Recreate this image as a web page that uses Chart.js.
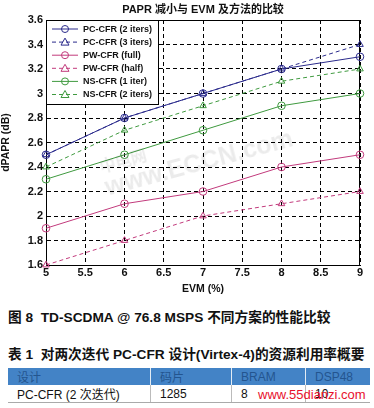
<!DOCTYPE html>
<html>
<head>
<meta charset="utf-8">
<script src="https://cdn.jsdelivr.net/npm/chart.js@4/dist/chart.umd.min.js"></script>
<style>
  body { margin: 0; background: #fff; width: 374px; height: 408px; overflow: hidden; position: relative;
         font-family: "Liberation Sans", "Noto Sans CJK SC", sans-serif; }
  #wrap { position: absolute; left: 0; top: 0; width: 374px; height: 295px; }
  .cap { position: absolute; left: 8px; font-weight: bold; font-size: 13.7px; color: #111; white-space: nowrap; }
  #mark { position: absolute; left: 98px; top: 160px; font-weight: bold; color: #000; line-height: 1;
          opacity: 0.08; transform: rotate(-15deg); transform-origin: left top; white-space: nowrap; }
  #mark .a { font-size: 16px; }
  #mark .b { font-size: 25px; }
  table { position: absolute; left: 8px; top: 368px; width: 362px; border-collapse: collapse; font-size: 12px;
          table-layout: fixed; }
  th { background: #4383c6; color: #23558f; font-weight: normal; text-align: left; height: 17px; padding: 0 0 0 9px;
       border-right: 1px solid #e4ecf4; }
  td { height: 17px; padding: 0 0 0 9px; color: #111; border-right: 1px solid #bbb; border-bottom: 1px solid #aaa; }
  th:last-child, td:last-child { border-right: none; }
  #site { position: absolute; left: 258px; top: 387px; font-size: 13px; color: #e8102c; white-space: nowrap; }
</style>
</head>
<body>
<div id="wrap"><canvas id="c" width="374" height="295"></canvas></div>
<div id="mark"><div class="a">中电网</div><div class="b">www.ECCN.com</div></div>
<div class="cap" style="top:306px">图 8&nbsp; TD-SCDMA @ 76.8 MSPS 不同方案的性能比较</div>
<div class="cap" style="top:343px">表 1&nbsp; 对两次迭代 PC-CFR 设计(Virtex-4)的资源利用率概要</div>
<table>
  <tr><th style="width:133px">设计</th><th style="width:71px">码片</th><th style="width:64px">BRAM</th><th>DSP48</th></tr>
  <tr><td>PC-CFR (2 次迭代)</td><td>1285</td><td>8</td><td>10</td></tr>
</table>
<div id="site">www.55dianzi.com</div>
<script>
const evm = [5, 6, 7, 8, 9];
const pcCfr2 = [2.5, 2.8, 3.0, 3.2, 3.3];
const pcCfr3 = [2.5, 2.8, 3.0, 3.2, 3.4];
const pwFull = [1.9, 2.1, 2.2, 2.4, 2.5];
const pwHalf = [1.6, 1.8, 2.0, 2.1, 2.2];
const nsCfr1 = [2.3, 2.5, 2.7, 2.9, 3.0];
const nsCfr2 = [2.4, 2.7, 2.9, 3.1, 3.2];

const blue = '#2b2b8c', pink = '#c23a7c', green = '#3f9a3f';

function series(label, vals, color, style, dashed) {
    return {
        label: label,
        data: evm.map((x, i) => ({ x: x, y: vals[i] })),
        borderColor: color,
        backgroundColor: 'rgba(0,0,0,0)',
        pointBorderColor: color,
        pointBackgroundColor: 'rgba(0,0,0,0)',
        pointStyle: style,
        pointRadius: 3.8,
        pointBorderWidth: 1,
        borderWidth: 1,
        borderDash: dashed ? [4, 3] : [],
        tension: 0,
        clip: false
    }
}

const datasets = [
    series('PC-CFR (2 iters)', pcCfr2, blue, 'circle', false),
    series('PC-CFR (3 iters)', pcCfr3, blue, 'triangle', true),
    series('PW-CFR (full)', pwFull, pink, 'circle', false),
    series('PW-CFR (half)', pwHalf, pink, 'triangle', true),
    series('NS-CFR (1 iter)', nsCfr1, green, 'circle', false),
    series('NS-CFR (2 iters)', nsCfr2, green, 'triangle', true)
];

// title, frame and the in-plot legend box
const decor = {
    id: 'decor',
    beforeDatasetsDraw(chart) {
        const ctx = chart.ctx, a = chart.chartArea;
        ctx.save();
        ctx.strokeStyle = '#000';
        ctx.lineWidth = 1;
        ctx.strokeRect(a.left + 0.5, a.top + 0.5, a.right - a.left - 1, a.bottom - a.top);
        ctx.restore();
    },
    afterDatasetsDraw(chart) {
        const ctx = chart.ctx, a = chart.chartArea;
        ctx.save();
        ctx.strokeStyle = '#000';
        ctx.lineWidth = 1;
        ctx.setLineDash([]);

        ctx.fillStyle = '#111';
        ctx.font = 'bold 11px "Liberation Sans", "Noto Sans CJK SC"';
        ctx.textAlign = 'center';
        ctx.textBaseline = 'middle';
        ctx.fillText('PAPR 减小与 EVM 及方法的比较', (a.left + a.right) / 2, 10);

        // legend
        const lx = a.left, ly = a.top, lw = 112, lh = 84;
        ctx.fillStyle = '#fff';
        ctx.fillRect(lx, ly, lw, lh);
        ctx.strokeRect(lx + 0.5, ly + 0.5, lw, lh);
        chart.data.datasets.forEach((ds, i) => {
            const y = ly + 9 + i * 13.1;
            ctx.strokeStyle = ds.borderColor;
            ctx.setLineDash(ds.borderDash);
            ctx.beginPath();
            ctx.moveTo(lx + 6, y);
            ctx.lineTo(lx + 32, y);
            ctx.stroke();
            ctx.setLineDash([]);
            ctx.beginPath();
            if (ds.pointStyle === 'circle') {
                ctx.arc(lx + 19, y, 3.5, 0, Math.PI * 2);
            } else {
                ctx.moveTo(lx + 19, y - 4);
                ctx.lineTo(lx + 23, y + 3);
                ctx.lineTo(lx + 15, y + 3);
                ctx.closePath();
            }
            ctx.stroke();
            ctx.fillStyle = '#111';
            ctx.textAlign = 'left';
            ctx.font = 'bold 9px "Liberation Sans"';
            ctx.fillText(ds.label, lx + 37, y + 0.5);
        });
        ctx.restore();
    }
};

new Chart(document.getElementById('c'), {
    type: 'line',
    data: { datasets: datasets },
    options: {
        responsive: false,
        animation: false,
        devicePixelRatio: 1,
        layout: { padding: { top: 20, right: 14, left: 0, bottom: 0 } },
        plugins: { legend: { display: false }, title: { display: false }, tooltip: { enabled: false } },
        scales: {
            x: {
                type: 'linear', min: 5, max: 9,
                ticks: { stepSize: 0.5, color: '#111', padding: 1, font: { family: 'Liberation Sans', size: 11, weight: 'bold' },
                         callback: v => String(+v.toFixed(1)) },
                grid: { color: '#000', lineWidth: 1, drawTicks: false },
                border: { display: true, color: '#000', dash: [4, 3] },
                title: { display: true, text: 'EVM (%)', color: '#111', padding: { top: 0, bottom: 0 },
                         font: { family: 'Liberation Sans', size: 10.5, weight: 'bold' } },
                afterFit: s => { s.height = 30; }
            },
            y: {
                type: 'linear', min: 1.6, max: 3.6,
                ticks: { stepSize: 0.2, color: '#111', padding: 3, font: { family: 'Liberation Sans', size: 11, weight: 'bold' },
                         callback: v => String(+v.toFixed(1)) },
                grid: { color: '#000', lineWidth: 1, drawTicks: false },
                border: { display: true, color: '#000', dash: [4, 3] },
                title: { display: true, text: 'dPAPR (dB)', color: '#111', padding: { top: 0, bottom: 2 },
                         font: { family: 'Liberation Sans', size: 10.5, weight: 'bold' } },
                afterFit: s => { s.width = 46; }
            }
        }
    },
    plugins: [decor]
});
</script>
</body>
</html>
